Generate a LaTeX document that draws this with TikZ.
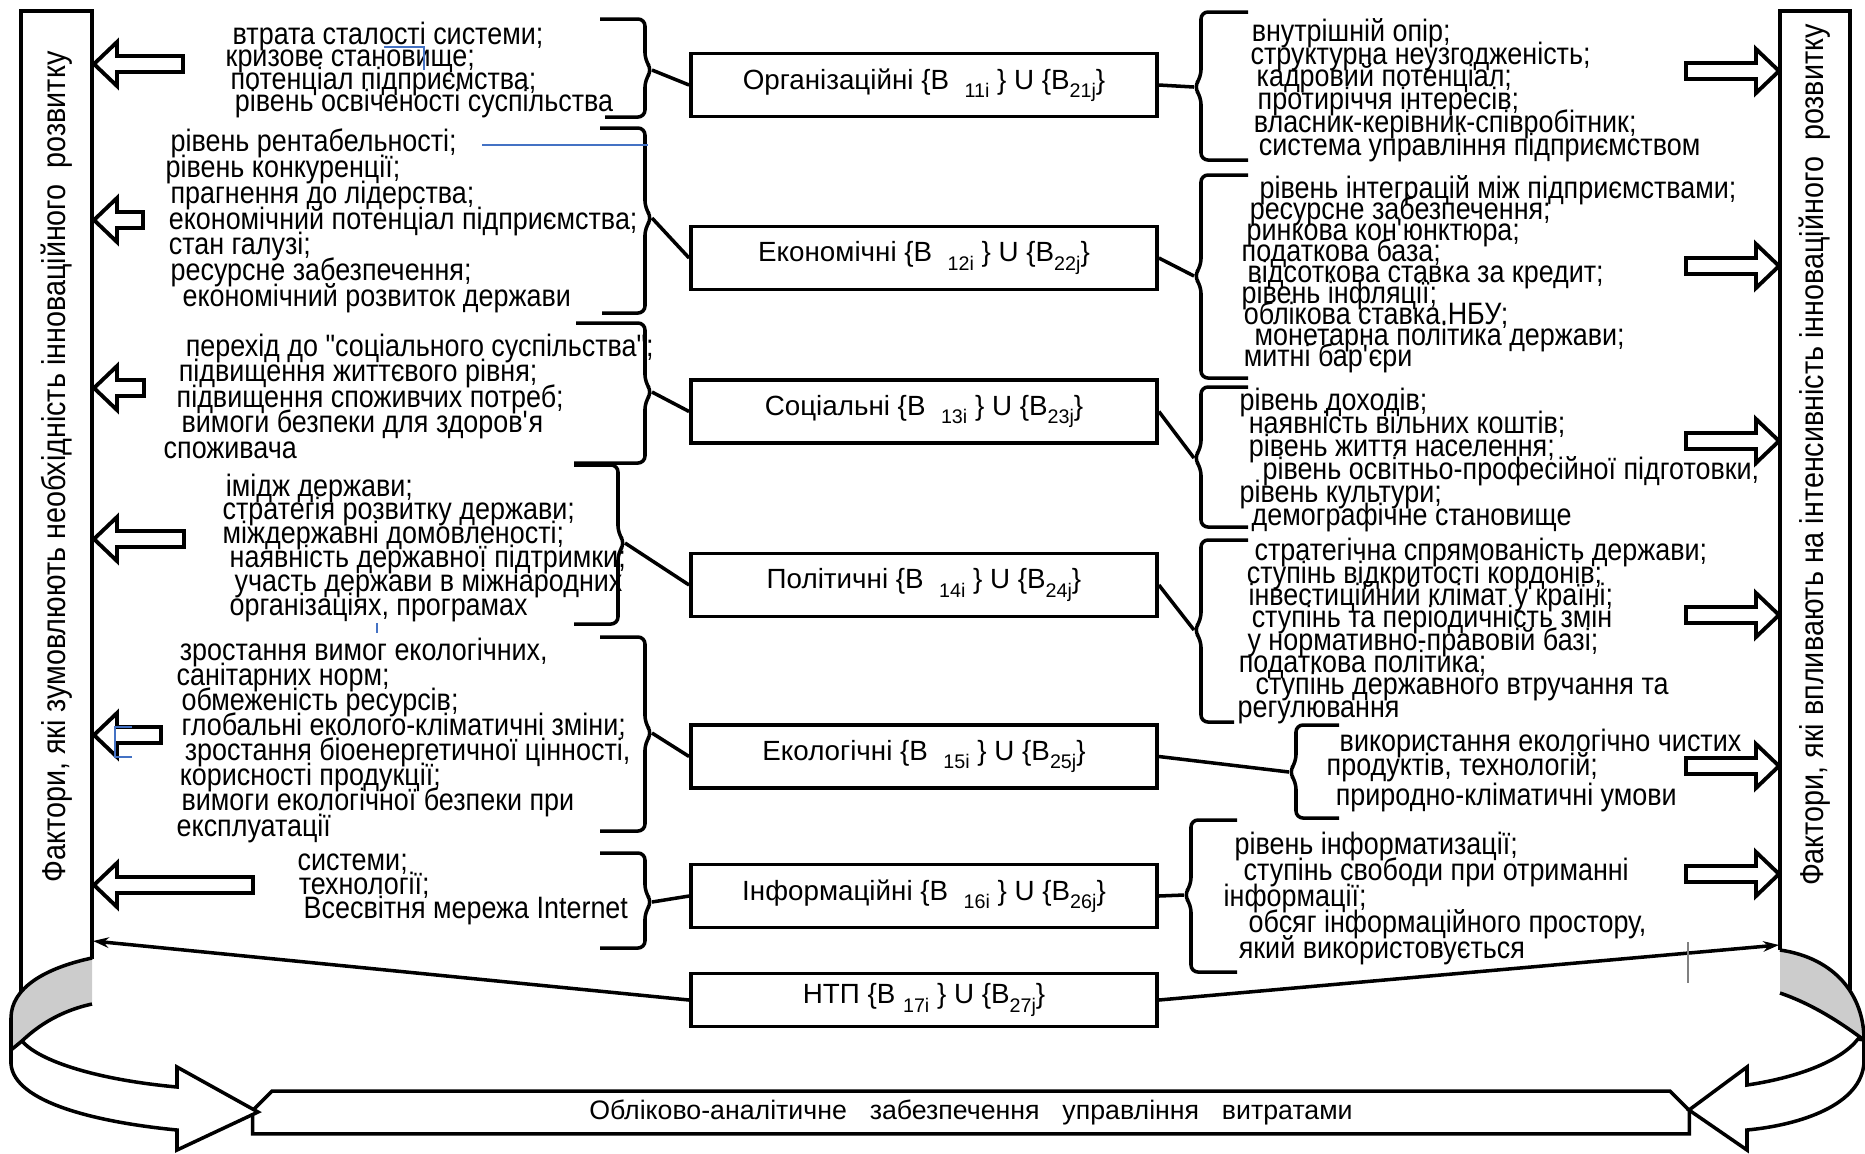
\documentclass[tikz,border=0pt]{standalone}
\usepackage{fontspec}
\setmainfont{Liberation Sans}
\newfontfamily\sidefont[FakeStretch=0.87]{Liberation Sans}
\usetikzlibrary{arrows.meta,shapes.misc}

\definecolor{stray}{RGB}{68,114,196}
\newcommand{\lowsub}[1]{\raisebox{-2.4pt}{\fontsize{5.6}{6}\selectfont#1}}
% hollow block arrow: tip x, head base x, tail x, y
\newcommand{\fatarrow}[4]{\draw[fat] (#1,#4) -- (#2,{#4-22}) -- (#2,{#4-8}) -- (#3,{#4-8}) -- (#3,{#4+8}) -- (#2,{#4+8}) -- (#2,{#4+22}) -- cycle;}

\tikzset{
  factor/.style={draw, line width=1pt, minimum width=4.66cm, minimum height=0.63cm, inner sep=0pt, font=\fontsize{7.9}{9}\selectfont},
  items/.style={inner sep=0pt, align=left, anchor=west, font={\sidefont\fontsize{8.8}{#1}\selectfont\lineskiplimit=-20pt}},
  side/.style={rotate=90, inner sep=0pt, font=\sidefont\fontsize{9.4}{10}\selectfont},
  brk/.style={line width=1pt, rounded corners=2pt},
  conn/.style={line width=1pt},
  fat/.style={line width=1.1pt, fill=white},
  thinline/.style={line width=0.3pt, stray},
}

\begin{document}
\begin{tikzpicture}[x=0.01cm, y=-0.01cm, >={Stealth[length=4.5pt,width=3pt]}]
  \useasboundingbox (0,0) rectangle (1865,1153);

  % side bars
  \draw[line width=1pt] (21,1000) -- (21,11) -- (92,11) -- (92,959);
  \draw[line width=1pt] (1780,950) -- (1780,11) -- (1850,11) -- (1850,990);
  \node[side] (ls) at (57,467) {Фактори, які зумовлюють необхідність інноваційного\ \ розвитку};
  \node[side] (rs) at (1815,455) {Фактори, які впливають на інтенсивність інноваційного\ \ розвитку};

  % groups of factors
  \node[factor] (org) at (924,85) {Організаційні \{B\ \ \lowsub{11i} \} U \{B\lowsub{21j}\}};
  \node[factor] (eco) at (924,258) {Економічні \{B\ \ \lowsub{12i} \} U \{B\lowsub{22j}\}};
  \node[factor] (soc) at (924,411.5) {Соціальні \{B\ \ \lowsub{13i} \} U \{B\lowsub{23j}\}};
  \node[factor] (pol) at (924,585) {Політичні \{B\ \ \lowsub{14i} \} U \{B\lowsub{24j}\}};
  \node[factor] (env) at (924,756.5) {Екологічні \{B\ \ \lowsub{15i} \} U \{B\lowsub{25j}\}};
  \node[factor] (inf) at (924,896) {Інформаційні \{B\ \ \lowsub{16i} \} U \{B\lowsub{26j}\}};
  \node[factor, minimum height=0.53cm] (ntp) at (924,1000) {НТП \{B\ \lowsub{17i} \} U \{B\lowsub{27j}\}};

  % left lists
  \node[items=6.3pt] (lf1) at (225,70) {\hspace*{2pt}втрата сталості системи;\\
    кризове становище;\\
    \hspace*{1.4pt}потенціал підприємства;\\
    \hspace*{2.6pt}рівень освіченості суспільства};
  \node[items=7.33pt] (lf2) at (165,221) {\hspace*{1.4pt}рівень рентабельності;\\
    рівень конкуренції;\\
    \hspace*{1.4pt}прагнення до лідерства;\\
    \hspace*{0.9pt}економічний потенціал підприємства;\\
    \hspace*{0.9pt}стан галузі;\\
    \hspace*{1.4pt}ресурсне забезпечення;\\
    \hspace*{4.8pt}економічний розвиток держави};
  \node[items=7.25pt] (lf3) at (163,396) {\hspace*{6.3pt}перехід до "соціального суспільства";\\
    \hspace*{4.3pt}підвищення життєвого рівня;\\
    \hspace*{3.7pt}підвищення споживчих потреб;\\
    \hspace*{5.1pt}вимоги безпеки для здоров\textquotesingle я\\
    споживача};
  \node[items=6.77pt] (lf4) at (222,547.5) {\hspace*{0.9pt}імідж держави;\\
    стратегія розвитку держави;\\
    міждержавні домовленості;\\
    \hspace*{2pt}наявність державної підтримки;\\
    \hspace*{3.4pt}участь держави в міжнародних\\
    \hspace*{2pt}організаціях, програмах};
  \node[items=7.15pt] (lf5) at (176,740) {\hspace*{0.9pt}зростання вимог екологічних,\\
    санітарних норм;\\
    \hspace*{1.4pt}обмеженість ресурсів;\\
    \hspace*{1.4pt}глобальні еколого-кліматичні зміни;\\
    \hspace*{2.3pt}зростання біоенергетичної цінності,\\
    \hspace*{0.9pt}корисності продукції;\\
    \hspace*{1.4pt}вимоги екологічної безпеки при\\
    експлуатації};
  \node[items=6.83pt] (lf6) at (297,889) {системи;\\
    \hspace*{0.3pt}технології;\\
    \hspace*{1.7pt}Всесвітня мережа Internet};

  % right lists
  \node[items=6.49pt] (rf1) at (1250,90) {\hspace*{0.3pt}внутрішній опір;\\
    структурна неузгодженість;\\
    \hspace*{1.7pt}кадровий потенціал;\\
    \hspace*{2pt}протиріччя інтересів;\\
    \hspace*{0.9pt}власник-керівник-співробітник;\\
    \hspace*{2.3pt}система управління підприємством};
  \node[items=5.97pt] (rf2) at (1241,274) {\hspace*{5.1pt}рівень інтеграцій між підприємствами;\\
    \hspace*{2.3pt}ресурсне забезпечення;\\
    \hspace*{1.4pt}ринкова кон\textquotesingle юнктюра;\\
    податкова база;\\
    \hspace*{1.7pt}відсоткова ставка за кредит;\\
    рівень інфляції;\\
    \hspace*{0.6pt}облікова ставка.НБУ;\\
    \hspace*{3.7pt}монетарна політика держави;\\
    \hspace*{0.6pt}митні бар\textquotesingle єри};
  \node[items=6.54pt] (rf3) at (1239,460) {рівень доходів;\\
    \hspace*{2.6pt}наявність вільних коштів;\\
    \hspace*{2.6pt}рівень життя населення;\\
    \hspace*{6.5pt}рівень освітньо-професійної підготовки;\\
    рівень культури;\\
    \hspace*{3.4pt}демографічне становище};
  \node[items=6.34pt] (rf4) at (1237,631) {\hspace*{4.8pt}стратегічна спрямованість держави;\\
    \hspace*{2.6pt}ступінь відкритості кордонів;\\
    \hspace*{3.1pt}інвестиційний клімат у країні;\\
    \hspace*{4pt}ступінь та періодичність змін\\
    \hspace*{2.8pt}у нормативно-правовій базі;\\
    \hspace*{0.3pt}податкова політика;\\
    \hspace*{5.1pt}ступінь державного втручання та\\
    регулювання};
  \node[items=6.83pt] (rf5) at (1326,770) {\hspace*{3.7pt}використання екологічно чистих\\
    продуктів, технологій;\\[1.7pt]
    \hspace*{2.6pt}природно-кліматичні умови};
  \node[items=7.33pt] (rf6) at (1223,898.5) {\hspace*{3.1pt}рівень інформатизації;\\
    \hspace*{5.7pt}ступінь свободи при отриманні\\
    інформації;\\
    \hspace*{7.1pt}обсяг інформаційного простору,\\
    \hspace*{4.3pt}який використовується};

  % brace tips
  \coordinate (lb1) at (652,70);
  \coordinate (lb2) at (652,218);
  \coordinate (lb3) at (652,392);
  \coordinate (lb4) at (625,543);
  \coordinate (lb5) at (652,733);
  \coordinate (lb6) at (652,902);
  \coordinate (rb1) at (1194,87);
  \coordinate (rb2) at (1194,276);
  \coordinate (rb3) at (1194,458);
  \coordinate (rb4) at (1194,630);
  \coordinate (rb5) at (1289,772);
  \coordinate (rb6) at (1184,895);

  \draw[brk] (600,19) -- (645,19) -- (645,60) -- (lb1) -- (645,80) -- (645,117) -- (605,117);
  \draw[brk] (600,128) -- (645,128) -- (645,208) -- (lb2) -- (645,228) -- (645,313) -- (602,313);
  \draw[brk] (576,323) -- (645,323) -- (645,382) -- (lb3) -- (645,402) -- (645,463) -- (574,463);
  \draw[brk] (574,465) -- (618,465) -- (618,533) -- (lb4) -- (618,553) -- (618,624) -- (574,624);
  \draw[brk] (600,637) -- (645,637) -- (645,723) -- (lb5) -- (645,743) -- (645,831) -- (600,831);
  \draw[brk] (600,853) -- (645,853) -- (645,892) -- (lb6) -- (645,912) -- (645,948) -- (600,948);

  \draw[brk] (1248,12) -- (1201,12) -- (1201,77) -- (rb1) -- (1201,97) -- (1201,160) -- (1248,160);
  \draw[brk] (1248,175) -- (1201,175) -- (1201,266) -- (rb2) -- (1201,286) -- (1201,378) -- (1248,378);
  \draw[brk] (1248,387) -- (1201,387) -- (1201,448) -- (rb3) -- (1201,468) -- (1201,527) -- (1248,527);
  \draw[brk] (1248,540) -- (1201,540) -- (1201,620) -- (rb4) -- (1201,640) -- (1201,722) -- (1234,722);
  \draw[brk] (1339,725) -- (1296,725) -- (1296,762) -- (rb5) -- (1296,782) -- (1296,818) -- (1339,818);
  \draw[brk] (1237,820) -- (1191,820) -- (1191,885) -- (rb6) -- (1191,905) -- (1191,972) -- (1237,972);

  \draw[conn] (lb1) -- (org.west);
  \draw[conn] (lb2) -- (eco.west);
  \draw[conn] (lb3) -- (soc.west);
  \draw[conn] (lb4) -- (pol.west);
  \draw[conn] (lb5) -- (env.west);
  \draw[conn] (lb6) -- (inf.west);
  \draw[conn] (org.east) -- (rb1);
  \draw[conn] (eco.east) -- (rb2);
  \draw[conn] (soc.east) -- (rb3);
  \draw[conn] (pol.east) -- (rb4);
  \draw[conn] (env.east) -- (rb5);
  \draw[conn] (inf.east) -- (rb6);

  \coordinate (lh) at (93,941);
  \coordinate (rh) at (1779,945);
  \draw[conn,->] (ntp.west) -- (lh);
  \draw[conn,->] (ntp.east) -- (rh);

  % block arrows to the bars
  \fatarrow{94}{117}{183}{64}
  \fatarrow{94}{117}{143}{220}
  \fatarrow{94}{117}{144}{388}
  \fatarrow{94}{117}{184}{539}
  \fatarrow{94}{117}{161}{735}
  \fatarrow{94}{117}{253}{885}
  \fatarrow{1779}{1756}{1686}{71}
  \fatarrow{1779}{1756}{1686}{266}
  \fatarrow{1779}{1756}{1686}{441}
  \fatarrow{1779}{1756}{1686}{615}
  \fatarrow{1779}{1756}{1686}{766}
  \fatarrow{1779}{1756}{1686}{874}

  % accounting base and the two ribbons
  \node[draw, line width=1pt, chamfered rectangle, chamfered rectangle corners={north west,north east},
        chamfered rectangle xsep=3pt, chamfered rectangle ysep=2.5pt, minimum width=14.36cm, minimum height=0.41cm,
        inner sep=0pt, font=\fontsize{7.6}{9}\selectfont] (base) at (971,1112.5)
        {Обліково-аналітичне\hspace{6.5pt}забезпечення\hspace{6.5pt}управління\hspace{6.5pt}витратами};

  \filldraw[line width=1pt, fill=gray!40] (92,958) .. controls (45,968) and (11,988) .. (11,1018) -- (11,1053) .. controls (28,1032) and (55,1012) .. (92,1004);
  \filldraw[line width=1pt, fill=white] (11,1050) -- (11,1064) .. controls (14,1102) and (95,1122) .. (177,1130) -- (177,1150) -- (258,1112) -- (177,1067) -- (177,1087) .. controls (100,1080) and (40,1062) .. (22,1041) -- cycle;

  \filldraw[line width=1pt, fill=gray!40] (1780,950) .. controls (1835,958) and (1864,995) .. (1864,1040) .. controls (1840,1022) and (1812,1004) .. (1780,993);
  \filldraw[line width=1pt, fill=white] (1864,1040) -- (1864,1062) .. controls (1862,1105) and (1800,1125) .. (1747,1130) -- (1747,1150) -- (1689,1110) -- (1747,1067) -- (1747,1085) .. controls (1795,1078) and (1840,1062) .. (1858,1039) -- cycle;

  % stray guide lines
  \draw[thinline] (482,145) -- (648,145);
  \draw[thinline] (384,47) -- (424,47) -- (424,70);
  \draw[thinline] (132,727) -- (115,727) -- (115,757) -- (132,757);
  \draw[thinline] (377,623) -- (377,633);
  \draw[line width=0.3pt, gray] (1688,942) -- (1688,983);
\end{tikzpicture}
\end{document}
